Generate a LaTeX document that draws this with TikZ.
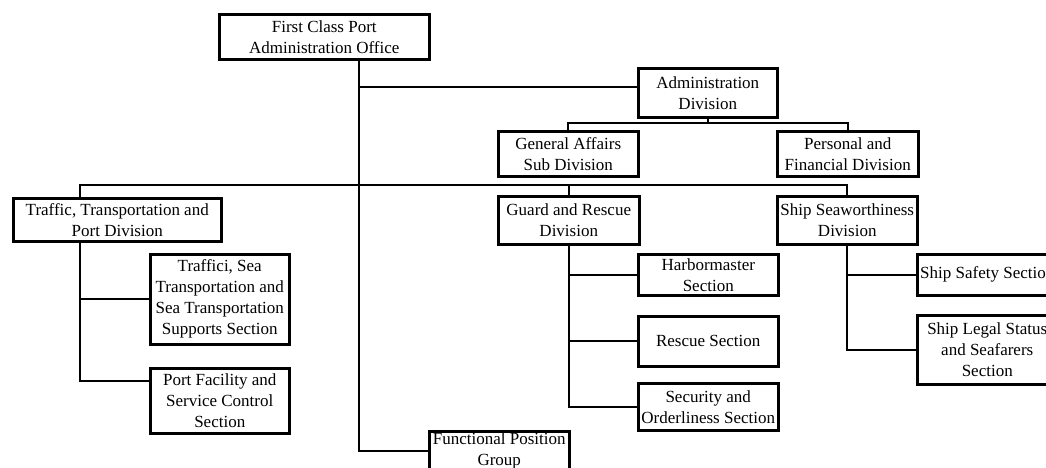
\documentclass[tikz,border=0pt]{standalone}
\usepackage{fontspec}
\setmainfont{Liberation Serif}
\begin{document}
\begin{tikzpicture}[x=1pt,y=-1pt,
  unit/.style={draw, line width=2.5pt, anchor=north west, inner sep=0pt,
    align=center, font=\fontsize{17}{21}\selectfont},
  link/.style={line width=2.1pt, line join=miter},
  thinlink/.style={line width=1.1pt}]
\useasboundingbox (0,0) rectangle (1046,467);
\clip (0,0) rectangle (1046,467);

% boxes
\node[unit, minimum width=210pt, minimum height=45pt] (top) at (218,13) {First Class Port\\Administration Office};
\node[unit, minimum width=139pt, minimum height=49pt] (admin) at (637,67) {Administration\\Division};
\node[unit, minimum width=140pt, minimum height=45pt] (genaff) at (497,130) {General Affairs\\Sub Division};
\node[unit, minimum width=141pt, minimum height=45pt] (personal) at (776,130) {Personal and\\Financial Division};
\node[unit, minimum width=208pt, minimum height=43pt] (traffic) at (12,197) {Traffic, Transportation and\\Port Division};
\node[unit, minimum width=141pt, minimum height=48pt] (guard) at (497,195) {Guard and Rescue\\Division};
\node[unit, minimum width=140pt, minimum height=48pt] (ship) at (776,195) {Ship Seaworthiness\\Division};
\node[unit, minimum width=139pt, minimum height=90pt] (traffici) at (149,253) {Traffici, Sea\\Transportation and\\Sea Transportation\\Supports Section};
\node[unit, minimum width=139pt, minimum height=65pt] (portfac) at (149,367) {Port Facility and\\Service Control\\Section};
\node[unit, minimum width=140pt, minimum height=41pt] (harbor) at (637,253) {Harbormaster\\Section};
\node[unit, minimum width=140pt, minimum height=50pt] (rescue) at (637,315) {Rescue Section};
\node[unit, minimum width=140pt, minimum height=47pt] (security) at (637,382) {Security and\\Orderliness Section};
\node[unit, minimum width=140pt, minimum height=41pt] (safety) at (916,253) {Ship Safety Section};
\node[unit, minimum width=140pt, minimum height=69pt] (legal) at (916,314) {Ship Legal Status\\and Seafarers\\Section};
\node[unit, minimum width=140pt, minimum height=40pt] (func) at (428,430) {Functional Position\\Group};

% helper coordinates for the bus lines
\coordinate (trunk) at (359,0);
\coordinate (tcol) at (80,0);
\coordinate (adminjoin) at (0,87);
\coordinate (adminbar) at (0,123);
\coordinate (mainbar) at (0,185);
\coordinate (pfjoin) at (0,381);

% main trunk down to the functional group
\draw[link] (top.south -| trunk) -- (trunk |- func.west) -- (func.west);
% administration branch
\draw[thinlink] (trunk |- adminjoin) -- (admin.west |- adminjoin);
\draw[link] (admin.south) -- (admin.south |- adminbar);
\draw[link] (genaff.north) -- (genaff.north |- adminbar) -- (personal.north |- adminbar) -- (personal.north);
% division bar
\draw[link] (tcol |- traffic.north) -- (tcol |- mainbar) -- (ship.north |- mainbar) -- (ship.north);
\draw[link] (guard.north) -- (guard.north |- mainbar);
% traffic sections
\draw[link] (tcol |- traffic.south) -- (tcol |- pfjoin) -- (portfac.west |- pfjoin);
\draw[link] (tcol |- traffici.west) -- (traffici.west);
% guard sections
\draw[link] (guard.south) -- (guard.south |- security.west) -- (security.west);
\draw[link] (guard.south |- harbor.west) -- (harbor.west);
\draw[link] (guard.south |- rescue.west) -- (rescue.west);
% seaworthiness sections
\draw[link] (ship.south) -- (ship.south |- legal.west) -- (legal.west);
\draw[link] (ship.south |- safety.west) -- (safety.west);
\end{tikzpicture}
\end{document}
